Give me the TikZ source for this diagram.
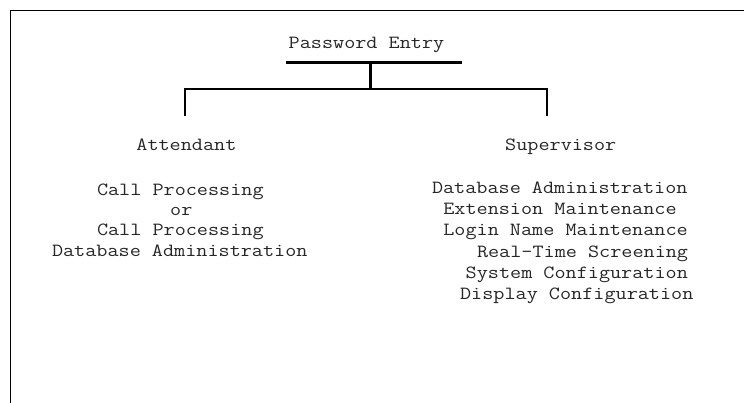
\documentclass[tikz,border=0pt]{standalone}
\usepackage{fontspec}
\newfontfamily\monofam{Latin Modern Mono}[FakeStretch=1.16]
\begin{document}
\begin{tikzpicture}[x=1pt,y=-1pt,
  txt/.style={font=\monofam\fontsize{18.6}{20}\selectfont, inner sep=0pt, anchor=base west, text=black!85},
  conn/.style={line width=2.2pt},
  frameline/.style={line width=1pt}]
\useasboundingbox (0,0) rectangle (744,403);
\draw[frameline] (10.5,403) -- (10.5,11) -- (744,11);
% title
\node[txt] (pe) at (288.5,48.5) {Password Entry};
% tree
\coordinate (ul) at (286,62.5);
\coordinate (ur) at (462,62.5);
\coordinate (top) at (370.5,62.5);
\coordinate (mid) at (370.5,89);
\coordinate (bl) at (185,89);
\coordinate (br) at (547,89);
\coordinate (bld) at (185,116);
\coordinate (brd) at (547,116);
\draw[conn] (ul) -- (ur);
\draw[conn] (top) -- (mid);
\draw[conn] (bld) -- (bl) -- (br) -- (brd);
% left column
\node[txt] (att) at (136.2,150.5) {Attendant};
\node[txt] (a1) at (96.8,195.5) {Call Processing};
\node[txt] (a2) at (170,215.8) {or};
\node[txt] (a3) at (96.8,236) {Call Processing};
\node[txt] (a4) at (51.8,256.3) {Database Administration};
% right column
\node[txt] (sup) at (505,150.5) {Supervisor};
\node[txt] (s1) at (431.8,193.5) {Database Administration};
\node[txt] (s2) at (443.1,214.8) {Extension Maintenance};
\node[txt] (s3) at (443.1,236) {Login Name Maintenance};
\node[txt] (s4) at (476.8,257.2) {Real-Time Screening};
\node[txt] (s5) at (465.5,278.5) {System Configuration};
\node[txt] (s6) at (459.9,299.5) {Display Configuration};
\end{tikzpicture}
\end{document}
